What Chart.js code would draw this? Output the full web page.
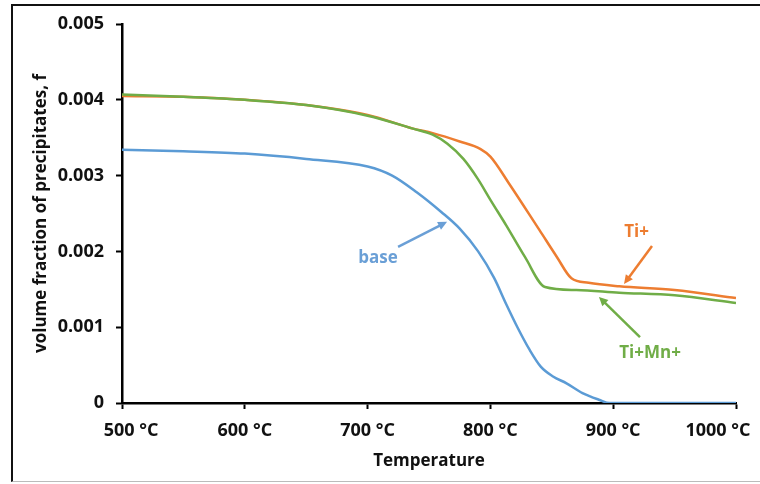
<!DOCTYPE html>
<html>
<head>
<meta charset="utf-8">
<script src="https://cdn.jsdelivr.net/npm/chart.js@4.4.1/dist/chart.umd.min.js"></script>
<style>
  body { margin: 0; background: #fff; }
  #wrap { position: relative; width: 760px; height: 484px; }
  #frame { position: absolute; left: 11px; top: 4px; width: 760px; height: 475px;
           border-top: 2px solid #111; border-left: 2px solid #111; border-bottom: 1px solid #bbb;
           pointer-events: none; }
</style>
</head>
<body>
<div id="wrap">
  <canvas id="myChart" width="760" height="484"></canvas>
  <div id="frame"></div>
</div>
<script>
// temperatures (°C) and volume fraction
const tempsTi = [500, 550, 600, 650, 700, 737, 753, 775, 792, 800, 815, 840, 854, 866, 880, 905, 950, 1000];
const valsTi = [0.00405, 0.00404, 0.00400, 0.00393, 0.00380, 0.00362, 0.00356, 0.00345, 0.00335, 0.00325, 0.00290, 0.00228, 0.00193, 0.001645, 0.001585, 0.00154, 0.00149, 0.001385];

const tempsTiMn = [500, 550, 600, 650, 700, 737, 753, 765, 778, 790, 800, 813, 828, 844.5, 870, 905, 950, 1000];
const valsTiMn = [0.00407, 0.00404, 0.00400, 0.00393, 0.00379, 0.00362, 0.00354, 0.00342, 0.00322, 0.00295, 0.00268, 0.00234, 0.00193, 0.00153, 0.00149, 0.001455, 0.00142, 0.00132];

const tempsBase = [500, 550, 600, 650, 700, 720, 740, 760, 775, 790, 803, 813, 822, 832, 841, 851, 862, 875, 889, 897, 1000];
const valsBase = [0.00334, 0.00332, 0.00329, 0.00322, 0.00312, 0.00300, 0.00278, 0.00252, 0.00230, 0.00200, 0.00165, 0.00130, 0.00100, 0.00070, 0.00048, 0.00035, 0.00026, 0.00013, 0.00004, 0, 0];

const xTicks = [500, 600, 700, 800, 900, 1000];
const yTicks = [0, 0.001, 0.002, 0.003, 0.004, 0.005];

const colBase = "#5B9BD5", colTi = "#ED7D31", colTiMn = "#70AD47";

// callout labels: text position and arrow tail -> tip, in data units
const callouts = [
  { text: "base", color: "#6A9FD6", at: [708.5, 0.00191], from: [724.8, 0.00206], to: [764.7, 0.00239] },
  { text: "Ti+", color: colTi, at: [919, 0.00226], from: [931.6, 0.00207], to: [908.8, 0.00157] },
  { text: "Ti+Mn+", color: colTiMn, at: [930, 0.00066], from: [921.8, 0.00087], to: [888.4, 0.00140] }
];

function toPoints(xs, ys) {
  return xs.map((x, i) => ({ x: x, y: ys[i] }));
}

const calloutPlugin = {
  id: "callouts",
  afterDatasetsDraw(chart) {
    const ctx = chart.ctx, sx = chart.scales.x, sy = chart.scales.y;
    callouts.forEach(c => {
      const x1 = sx.getPixelForValue(c.from[0]), y1 = sy.getPixelForValue(c.from[1]);
      const x2 = sx.getPixelForValue(c.to[0]), y2 = sy.getPixelForValue(c.to[1]);
      const ang = Math.atan2(y2 - y1, x2 - x1);
      ctx.save();
      ctx.strokeStyle = c.color;
      ctx.fillStyle = c.color;
      ctx.lineWidth = 2.5;
      ctx.beginPath();
      ctx.moveTo(x1, y1);
      ctx.lineTo(x2 - 6 * Math.cos(ang), y2 - 6 * Math.sin(ang));
      ctx.stroke();
      ctx.beginPath();
      ctx.moveTo(x2, y2);
      ctx.lineTo(x2 - 10 * Math.cos(ang - 0.45), y2 - 10 * Math.sin(ang - 0.45));
      ctx.lineTo(x2 - 10 * Math.cos(ang + 0.45), y2 - 10 * Math.sin(ang + 0.45));
      ctx.closePath();
      ctx.fill();
      ctx.font = "bold 17px 'Open Sans'";
      ctx.textAlign = "center";
      ctx.textBaseline = "middle";
      ctx.fillText(c.text, sx.getPixelForValue(c.at[0]), sy.getPixelForValue(c.at[1]));
      ctx.restore();
    });
  }
};

const lineStyle = { borderWidth: 2.5, pointRadius: 0, fill: false, cubicInterpolationMode: "monotone" };

const config = {
  type: "line",
  data: {
    datasets: [
      Object.assign({ label: "base", data: toPoints(tempsBase, valsBase), borderColor: colBase }, lineStyle),
      Object.assign({ label: "Ti+Mn+", data: toPoints(tempsTiMn, valsTiMn), borderColor: colTiMn }, lineStyle),
      Object.assign({ label: "Ti+", data: toPoints(tempsTi, valsTi), borderColor: colTi }, lineStyle)
    ]
  },
  options: {
    responsive: false,
    animation: false,
    layout: { padding: { top: 24, right: 24, left: 0, bottom: 0 } },
    plugins: { legend: { display: false }, tooltip: { enabled: false } },
    scales: {
      x: {
        type: "linear",
        min: 500, max: 1000,
        afterBuildTicks: s => { s.ticks = xTicks.map(v => ({ value: v })); },
        afterFit: s => { s.height = 81; s.paddingLeft = 0; s.paddingRight = 0; },
        border: { color: "#000", width: 2.5 },
        grid: { drawOnChartArea: false, drawTicks: true, tickLength: 6, tickWidth: 2, tickColor: "#000" },
        ticks: {
          color: "#111", padding: 11, maxRotation: 0, autoSkip: false,
          font: { family: "'Open Sans'", size: 18, weight: "bold" },
          callback: v => v === 500 ? "\u2002\u2002" + v + " °C" : (v === 1000 ? v + " °C\u2002\u2002\u2002\u2002" : v + " °C")
        },
        title: { display: true, text: "Temperature", color: "#111", padding: { top: 0, bottom: 13 },
                 font: { family: "'Open Sans'", size: 17, weight: "bold" } }
      },
      y: {
        min: 0, max: 0.005,
        afterBuildTicks: s => { s.ticks = yTicks.map(v => ({ value: v })); },
        afterFit: s => { s.width = 122; },
        border: { color: "#000", width: 2.5 },
        grid: { drawOnChartArea: false, drawTicks: true, tickLength: 6, tickWidth: 2, tickColor: "#000" },
        ticks: {
          color: "#111", padding: 12,
          font: { family: "'Open Sans'", size: 18, weight: "bold" },
          callback: v => v === 0 ? "0" : v.toFixed(3)
        },
        title: { display: true, text: "volume fraction of precipitates, f", color: "#111", padding: { top: 31, bottom: 0 },
                 font: { family: "'Open Sans'", size: 17, weight: "bold" } }
      }
    }
  },
  plugins: [calloutPlugin]
};

var myChart = new Chart(document.getElementById("myChart"), config);
</script>
</body>
</html>
